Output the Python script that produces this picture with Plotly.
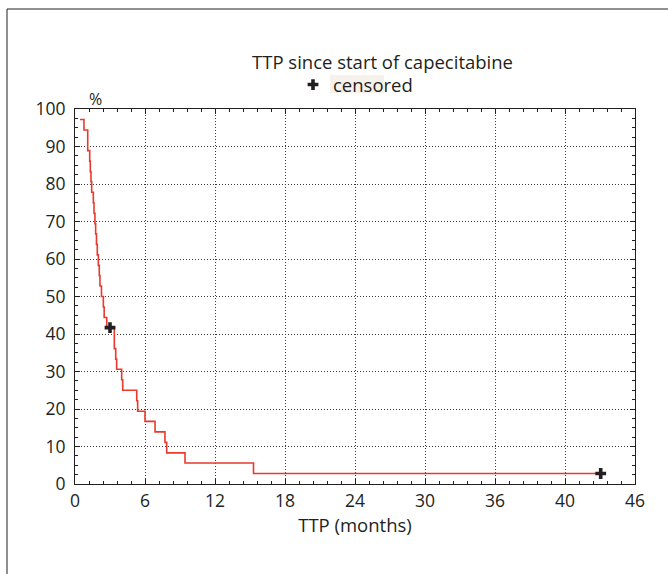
import plotly.graph_objects as go

# Kaplan-Meier step curve (time in axis units, survival in %)
times = [0.43, 0.77, 1.09, 1.26, 1.31, 1.37, 1.43, 1.57, 1.63, 1.71, 1.77, 1.84,
         1.91, 2.0, 2.08, 2.14, 2.27, 2.43, 2.5, 2.72, 3.37, 3.49, 3.57, 4.0,
         4.09, 5.29, 5.37, 6.0, 6.86, 7.71, 7.86, 9.43, 15.3, 45.06]
surv = [97.2, 94.4, 88.9, 86.1, 83.3, 80.6, 77.8, 75.0, 72.2, 69.4, 66.7, 63.9,
        61.1, 58.3, 55.6, 52.8, 50.0, 47.2, 44.4, 41.7, 36.1, 33.3, 30.6, 27.8,
        25.0, 22.2, 19.4, 16.7, 13.9, 11.1, 8.3, 5.6, 2.8, 2.8]

# censored observations
cens_t = [3.0, 45.06]
cens_s = [41.7, 2.8]

# axis ticks
x_tickvals = [0, 6, 12, 18, 24, 30, 36, 42, 48]
x_ticktext = ["0", "6", "12", "18", "24", "30", "36", "40", "46"]
y_tickvals = [0, 10, 20, 30, 40, 50, 60, 70, 80, 90, 100]

FONT = "Open Sans"
TXT = "#231f20"
FS = 17.5
FT = 18.5

fig = go.Figure()
fig.add_trace(go.Scatter(
    x=times, y=surv, mode="lines", line=dict(color="#e83a2c", width=1.6, shape="hv"),
    showlegend=False, hoverinfo="skip"))
fig.add_trace(go.Scatter(
    x=cens_t, y=cens_s, mode="markers", name="censored",
    marker=dict(symbol="cross", size=9, color="#231f20"),
    showlegend=True, cliponaxis=False))

L, R, T, B = 75, 33, 109, 90
W, H = 668, 574
pw, ph = W - L - R, H - T - B

def px(xp):
    return (xp - L) / pw

def py(yp):
    return (H - B - yp) / ph

axis_common = dict(
    showline=True, linecolor="#231f20", linewidth=1, mirror="allticks",
    ticks="inside", ticklen=5, tickcolor="#231f20", tickwidth=1,
    showgrid=True, gridcolor="#3a3a3a", griddash="1px,2px", gridwidth=1,
    zeroline=False, tickfont=dict(family=FONT, size=FS, color=TXT),
)

fig.update_layout(
    width=W, height=H,
    margin=dict(l=L, r=R, t=T, b=B, autoexpand=False),
    paper_bgcolor="white", plot_bgcolor="white",
    font=dict(family=FONT, color=TXT),
    xaxis=dict(range=[0, 48], tickvals=x_tickvals, ticktext=x_ticktext,
               minor=dict(dtick=1.2, ticks="inside", ticklen=3, tickcolor="#231f20", showgrid=False),
               title=dict(text="TTP (months)", font=dict(family=FONT, size=FT, color=TXT), standoff=3),
               ticklabelstandoff=1,
               **axis_common),
    yaxis=dict(range=[0, 100], tickvals=y_tickvals,
               minor=dict(dtick=2.5, ticks="inside", ticklen=3, tickcolor="#231f20", showgrid=False),
               ticklabelstandoff=5,
               **axis_common),
    showlegend=True,
    legend=dict(x=px(293), y=py(66), xanchor="left", yanchor="top",
                bgcolor="rgba(0,0,0,0)", font=dict(family=FONT, size=FT, color=TXT),
                itemwidth=30, tracegroupgap=0),
    annotations=[
        dict(text="TTP since start of capecitabine", xref="paper", yref="paper",
             x=px(382), y=py(61), xanchor="center", yanchor="middle", showarrow=False,
             font=dict(family=FONT, size=FT, color=TXT)),
        dict(text="%", xref="paper", yref="paper", x=px(95), y=py(99),
             xanchor="center", yanchor="middle", showarrow=False,
             font=dict(family=FONT, size=16, color=TXT)),
    ],
    shapes=[
        dict(type="rect", xref="paper", yref="paper", x0=px(7), x1=px(720), y0=py(620), y1=py(9),
             line=dict(color="#231f20", width=1), fillcolor="rgba(0,0,0,0)", layer="below"),
        dict(type="rect", xref="paper", yref="paper", x0=px(330), x1=px(384), y0=py(93), y1=py(75),
             line=dict(width=0), fillcolor="#f6f1ea", layer="below"),
    ],
)

fig.write_html("out.html", config={"displayModeBar": False},
               post_script="document.body.style.margin='0px';")
